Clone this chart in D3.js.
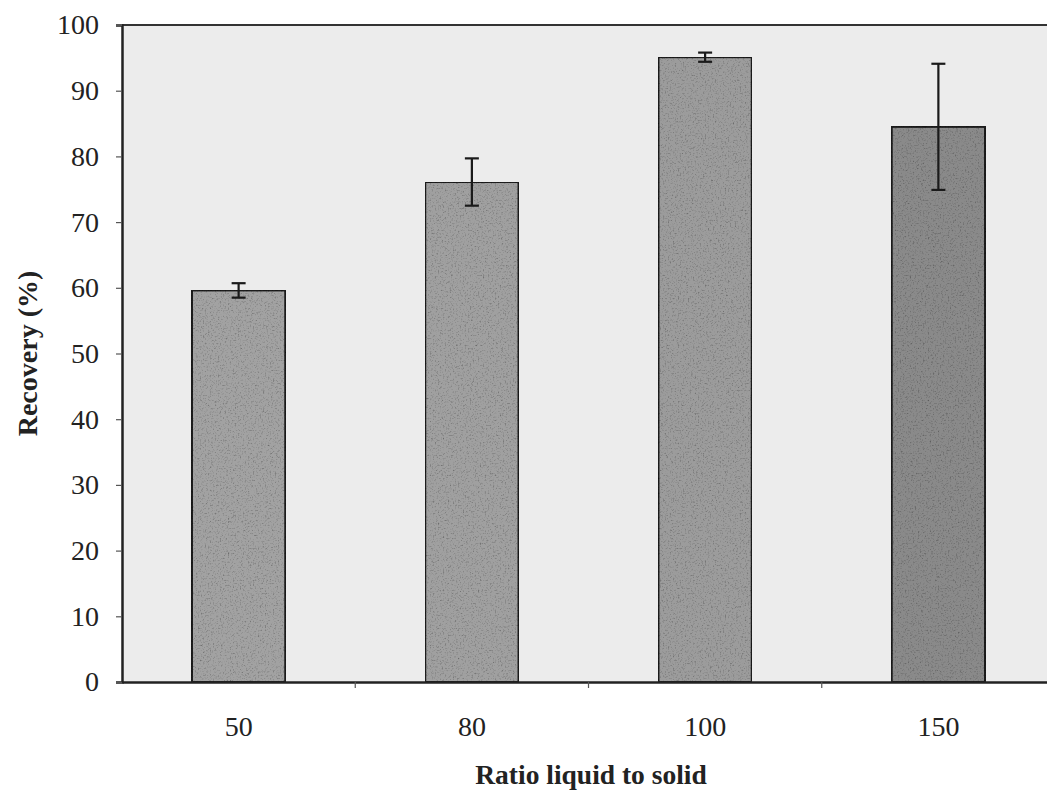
<!DOCTYPE html>
<html>
<head>
<meta charset="utf-8">
<script src="https://cdn.jsdelivr.net/npm/d3@7"></script>
<style>
  body { margin: 0; background: #fff; }
  svg text { font-family: "Liberation Serif", "Times New Roman", serif; fill: #222; }
</style>
</head>
<body>
<svg id="chart"></svg>
<script>
// data
const ratios = ['50', '80', '100', '150'];
const recovery = [59.6, 76.1, 95.1, 84.5];
const errors = [1.1, 3.6, 0.7, 9.6];
const yTicks = [0, 10, 20, 30, 40, 50, 60, 70, 80, 90, 100];
const barShades = ['#a2a2a2', '#a0a0a0', '#9c9c9c', '#8a8a8a'];

const width = 1047;
const height = 794;
const margin = { top: 25, right: -8, bottom: 112, left: 122 };

const svg = d3.select('#chart')
    .attr('width', width)
    .attr('height', height);

// grainy fill like the scanned bars
const defs = svg.append('defs');
const grain = defs.append('filter')
    .attr('id', 'grain')
    .attr('x', 0).attr('y', 0).attr('width', 1).attr('height', 1);
grain.append('feTurbulence')
    .attr('type', 'fractalNoise')
    .attr('baseFrequency', 0.6)
    .attr('numOctaves', 3)
    .attr('seed', 4)
    .attr('result', 'noise');
grain.append('feColorMatrix')
    .attr('in', 'noise')
    .attr('type', 'matrix')
    .attr('values', '1.4 0 0 0 0.32  1.4 0 0 0 0.32  1.4 0 0 0 0.32  0 0 0 0 1')
    .attr('result', 'grey');
grain.append('feBlend')
    .attr('in', 'SourceGraphic')
    .attr('in2', 'grey')
    .attr('mode', 'multiply')
    .attr('result', 'mixed');
grain.append('feComposite')
    .attr('in', 'mixed')
    .attr('in2', 'SourceAlpha')
    .attr('operator', 'in');

const x = d3.scaleBand()
    .domain(ratios)
    .range([margin.left, width - margin.right])
    .paddingInner(0.6)
    .paddingOuter(0.3);

const y = d3.scaleLinear()
    .domain([0, 100])
    .range([height - margin.bottom, margin.top]);

// plot area
svg.append('rect')
    .attr('x', margin.left)
    .attr('y', margin.top)
    .attr('width', width - margin.right - margin.left)
    .attr('height', y(0) - margin.top)
    .attr('fill', '#ececec');

// bars
svg.append('g')
    .selectAll('rect')
    .data(ratios)
    .join('rect')
    .attr('x', d => x(d))
    .attr('y', (d, i) => y(recovery[i]))
    .attr('width', x.bandwidth())
    .attr('height', (d, i) => y(0) - y(recovery[i]))
    .attr('fill', (d, i) => barShades[i])
    .attr('filter', 'url(#grain)')
    .attr('stroke', '#1a1a1a')
    .attr('stroke-width', 2);

// error bars
const err = svg.append('g')
    .attr('stroke', '#1a1a1a')
    .attr('stroke-width', 2.2)
    .selectAll('g')
    .data(ratios)
    .join('g')
    .attr('transform', d => `translate(${x(d) + x.bandwidth() / 2},0)`);

err.append('line')
    .attr('y1', (d, i) => y(recovery[i] - errors[i]))
    .attr('y2', (d, i) => y(recovery[i] + errors[i]));
err.append('line')
    .attr('x1', -7).attr('x2', 7)
    .attr('y1', (d, i) => y(recovery[i] + errors[i]))
    .attr('y2', (d, i) => y(recovery[i] + errors[i]));
err.append('line')
    .attr('x1', -7).attr('x2', 7)
    .attr('y1', (d, i) => y(recovery[i] - errors[i]))
    .attr('y2', (d, i) => y(recovery[i] - errors[i]));

// frame top
svg.append('line')
    .attr('x1', margin.left).attr('x2', width)
    .attr('y1', margin.top).attr('y2', margin.top)
    .attr('stroke', '#333')
    .attr('stroke-width', 2);

// y axis
const yAxis = svg.append('g')
    .attr('transform', `translate(${margin.left},0)`)
    .call(d3.axisLeft(y).tickValues(yTicks).tickSize(6).tickPadding(17));
yAxis.select('.domain').attr('stroke', '#222').attr('stroke-width', 2.5);
yAxis.selectAll('.tick line').attr('stroke', '#555').attr('stroke-width', 1.2);
yAxis.selectAll('.tick text')
    .attr('font-size', 28)
    .attr('font-family', '"Liberation Serif", serif')
    .attr('fill', '#222');

// x axis: ticks sit between the categories
const xAxis = svg.append('g')
    .attr('transform', `translate(0,${y(0)})`)
    .call(d3.axisBottom(x).tickSize(0).tickPadding(34));
xAxis.select('.domain').attr('stroke', '#222').attr('stroke-width', 2.5);
xAxis.selectAll('.tick text')
    .attr('font-size', 28)
    .attr('font-family', '"Liberation Serif", serif')
    .attr('fill', '#222');

xAxis.selectAll('.sep')
    .data(ratios.slice(1))
    .join('line')
    .attr('class', 'sep')
    .attr('x1', d => x(d) - x.step() * x.paddingInner() / 2)
    .attr('x2', d => x(d) - x.step() * x.paddingInner() / 2)
    .attr('y1', 0).attr('y2', 6)
    .attr('stroke', '#555')
    .attr('stroke-width', 1.2);

// axis titles
svg.append('text')
    .attr('transform', `translate(37,${(y(0) + y(100)) / 2}) rotate(-90)`)
    .attr('text-anchor', 'middle')
    .attr('font-size', 28)
    .attr('font-weight', 'bold')
    .text('Recovery (%)');

svg.append('text')
    .attr('x', 591)
    .attr('y', 784)
    .attr('text-anchor', 'middle')
    .attr('font-size', 27.5)
    .attr('font-weight', 'bold')
    .text('Ratio liquid to solid');
</script>
</body>
</html>
